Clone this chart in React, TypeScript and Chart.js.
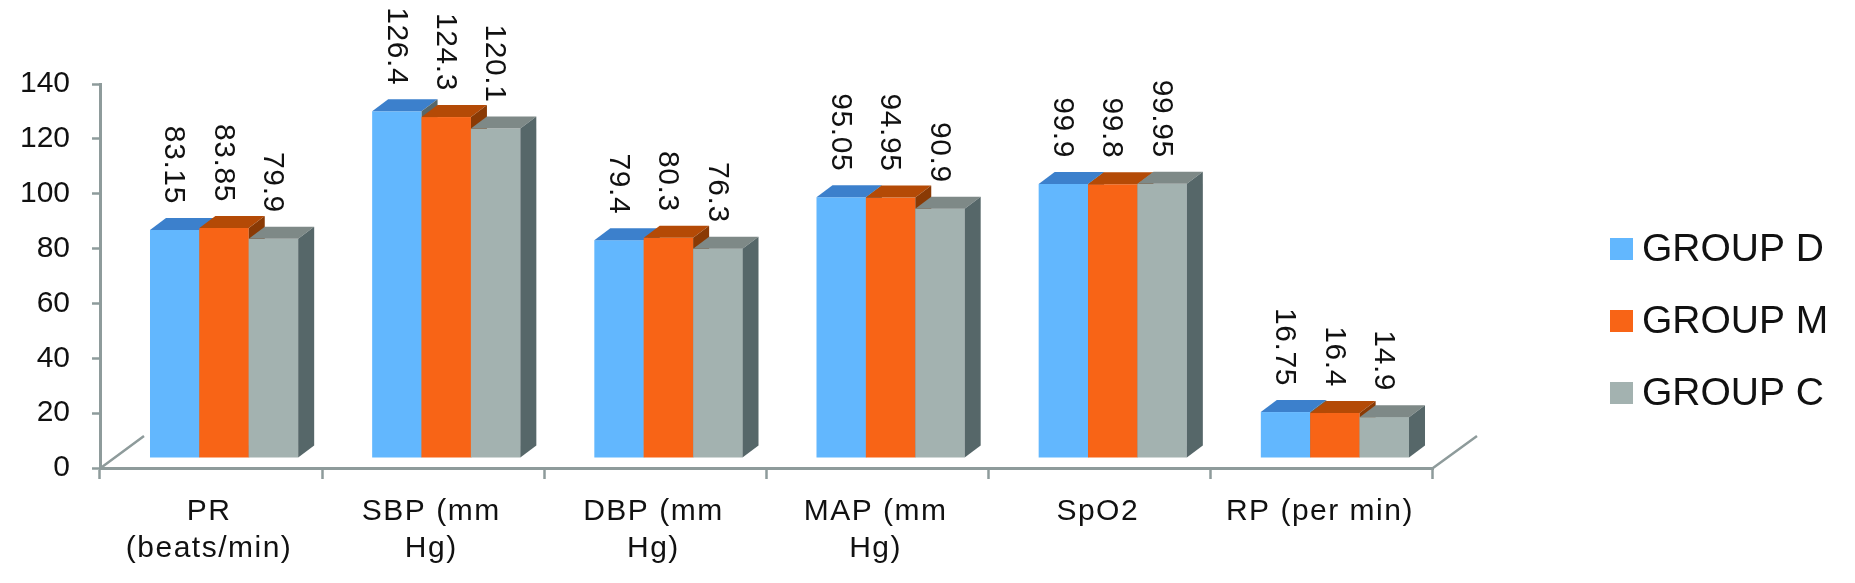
import React, { useEffect, useRef } from "react";
import { Chart, registerables } from "chart.js";

Chart.register(...registerables);

// ---------- data ----------
const categories: string[][] = [
  ["PR", "(beats/min)"],
  ["SBP (mm", "Hg)"],
  ["DBP (mm", "Hg)"],
  ["MAP (mm", "Hg)"],
  ["SpO2"],
  ["RP (per min)"],
];
const seriesNames = ["GROUP D", "GROUP M", "GROUP C"];
const groupD = [83.15, 126.4, 79.4, 95.05, 99.9, 16.75];
const groupM = [83.85, 124.3, 80.3, 94.95, 99.8, 16.4];
const groupC = [79.9, 120.1, 76.3, 90.9, 99.95, 14.9];
const yMin = 0;
const yMax = 140;
const yStep = 20;

// ---------- styles ----------
const FONT = "'Liberation Sans', Arial, sans-serif";
const AXIS = "#8e9b9b";
const frontColors = ["#62b7fe", "#f86416", "#a3b2b0"];
const topColors = ["#3c80cc", "#b44a06", "#7e8987"];
const sideColors = ["#56676a", "#8a3a05", "#566769"];
const BAR_OFF_X = 13;
const BAR_OFF_Y = -10;
const BAR_DX = 16;
const BAR_DY = 12;
const FLOOR_DX = 44;
const FLOOR_DY = 32;

const bar3d = {
  id: "bar3d",
  beforeDatasetsDraw(chart: any) {
    const { ctx, chartArea } = chart;
    ctx.save();
    // floor edges
    ctx.strokeStyle = AXIS;
    ctx.lineWidth = 2.5;
    ctx.beginPath();
    ctx.moveTo(chartArea.left + 2, chartArea.bottom - 1);
    ctx.lineTo(chartArea.left + FLOOR_DX, chartArea.bottom - FLOOR_DY);
    ctx.moveTo(chartArea.right, chartArea.bottom);
    ctx.lineTo(chartArea.right + FLOOR_DX, chartArea.bottom - FLOOR_DY);
    ctx.stroke();

    const n = chart.data.labels.length;
    const nd = chart.data.datasets.length;
    const labels: any[] = [];
    for (let j = 0; j < n; j++) {
      for (let i = 0; i < nd; i++) {
        const el = chart.getDatasetMeta(i).data[j];
        if (!el) continue;
        const { x, y, base, width } = el.getProps(["x", "y", "base", "width"], true);
        const l = x - width / 2 + BAR_OFF_X;
        const r = x + width / 2 + BAR_OFF_X;
        const t = y + BAR_OFF_Y;
        const b = base + BAR_OFF_Y;
        // front
        ctx.fillStyle = frontColors[i];
        ctx.fillRect(l, t, r - l, b - t);
        // top
        ctx.fillStyle = topColors[i];
        ctx.beginPath();
        ctx.moveTo(l, t);
        ctx.lineTo(l + BAR_DX, t - BAR_DY);
        ctx.lineTo(r + BAR_DX, t - BAR_DY);
        ctx.lineTo(r, t);
        ctx.closePath();
        ctx.fill();
        // side
        ctx.fillStyle = sideColors[i];
        ctx.beginPath();
        ctx.moveTo(r, t);
        ctx.lineTo(r + BAR_DX, t - BAR_DY);
        ctx.lineTo(r + BAR_DX, b - BAR_DY);
        ctx.lineTo(r, b);
        ctx.closePath();
        ctx.fill();
        labels.push({ cx: (l + r) / 2 - 1, top: t, v: chart.data.datasets[i].data[j] });
      }
    }
    // value labels (rotated)
    ctx.fillStyle = "#111";
    ctx.font = `30px ${FONT}`;
    (ctx as any).letterSpacing = "0.6px";
    ctx.textAlign = "right";
    ctx.textBaseline = "middle";
    for (const lb of labels) {
      ctx.save();
      ctx.translate(lb.cx, lb.top - 26);
      ctx.rotate(Math.PI / 2);
      ctx.fillText(String(lb.v), 0, 0);
      ctx.restore();
    }
    ctx.restore();
    return false;
  },
  afterDraw(chart: any) {
    const { ctx } = chart;
    ctx.save();
    // category labels from the x scale
    const xs = chart.scales.x;
    ctx.font = `30px ${FONT}`;
    (ctx as any).letterSpacing = "1.5px";
    ctx.fillStyle = "#111";
    ctx.textAlign = "center";
    ctx.textBaseline = "alphabetic";
    const lbls = chart.data.labels as string[][];
    lbls.forEach((lines, i) => {
      const px = xs.getPixelForTick(i) - 2;
      lines.forEach((line, k) => {
        ctx.fillText(line, px, xs.top + 52 + k * 37);
      });
    });
    (ctx as any).letterSpacing = "0px";
    // legend
    ctx.font = `39px ${FONT}`;
    ctx.textAlign = "left";
    ctx.textBaseline = "middle";
    chart.data.datasets.forEach((ds: any, i: number) => {
      const cy = 249 + i * 72;
      ctx.fillStyle = frontColors[i];
      ctx.fillRect(1610, cy - 11, 23, 22);
      ctx.fillStyle = "#111";
      ctx.fillText(ds.label, 1642, cy + 1);
    });
    ctx.restore();
  },
};

export default function App() {
  const ref = useRef<HTMLCanvasElement | null>(null);
  useEffect(() => {
    if (!ref.current) return;
    const seriesData = [groupD, groupM, groupC];
    const chart = new Chart(ref.current, {
      type: "bar",
      data: {
        labels: categories,
        datasets: seriesNames.map((name, i) => ({
          label: name,
          data: seriesData[i],
          backgroundColor: frontColors[i],
          categoryPercentage: 0.667,
          barPercentage: 1,
        })),
      },
      options: {
        animation: false,
        responsive: false,
        devicePixelRatio: 1,
        layout: { padding: { left: 0, top: 84, right: 422, bottom: 0 } },
        plugins: { legend: { display: false }, tooltip: { enabled: false } },
        scales: {
          x: {
            grid: {
              display: true,
              drawOnChartArea: false,
              drawTicks: true,
              tickLength: 11,
              tickWidth: 2.5,
              tickColor: AXIS,
              offset: true,
            },
            border: { display: true, color: AXIS, width: 3 },
            ticks: {
              display: false,
              autoSkip: false,
            },
            afterFit(scale: any) {
              scale.height = 115;
            },
          },
          y: {
            min: yMin,
            max: yMax,
            grid: {
              display: true,
              drawOnChartArea: false,
              drawTicks: true,
              tickLength: 8,
              tickWidth: 2.5,
              tickColor: AXIS,
            },
            border: { display: true, color: AXIS, width: 3 },
            ticks: {
              stepSize: yStep,
              font: { family: FONT, size: 30 },
              color: "#111",
              padding: 22,
            },
            afterFit(scale: any) {
              scale.width = 100;
            },
          },
        },
      },
      plugins: [bar3d],
    });
    return () => chart.destroy();
  }, []);
  return (
    <div style={{ position: "absolute", left: 0, top: 0, width: 1855, height: 583, background: "#fff" }}>
      <canvas ref={ref} width={1855} height={583} style={{ display: "block" }} />
    </div>
  );
}
